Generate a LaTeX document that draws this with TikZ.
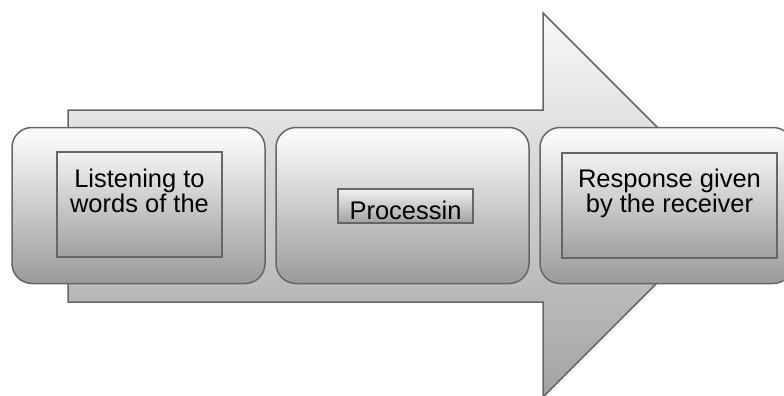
\documentclass[tikz,border=0pt]{standalone}
\usepackage{fontspec}
\setmainfont{Liberation Sans}
\definecolor{linec}{HTML}{666666}
\definecolor{arrtop}{HTML}{FAFAFA}
\definecolor{arrbot}{HTML}{A2A2A2}
\definecolor{boxbot}{HTML}{9A9A9A}
\definecolor{inbot}{HTML}{A0A0A0}
\begin{document}
\begin{tikzpicture}[x=1pt,y=-1pt,
  outerbox/.style={draw=linec, line width=1.5pt, rounded corners=20pt,
    top color=white, bottom color=boxbot, minimum width=253pt,
    minimum height=156pt, inner sep=0pt},
  innerbox/.style={draw=linec, line width=1.5pt, top color=white!95!black,
    bottom color=inbot, inner sep=0pt},
  lbl/.style={font=\fontsize{25.5}{25}\selectfont, align=center, inner sep=0pt}]
\useasboundingbox (0,0) rectangle (784,396);
\clip (0,0) rectangle (784,396);
% big arrow
\draw[draw=linec, line width=1.5pt, top color=arrtop, bottom color=arrbot]
  (68,110) -- (543,110) -- (543,13) -- (735,205) -- (543,397) -- (543,302)
  -- (68,302) -- cycle;
% outer rounded boxes
\node[outerbox] (b1) at (138.5,205.5) {};
\node[outerbox] (b2) at (402.5,205.5) {};
\node[outerbox] (b3) at (666.5,205.5) {};
% inner boxes
\node[innerbox, minimum width=165pt, minimum height=105pt] (i1) at (139.5,204.5) {};
\node[innerbox, minimum width=135pt, minimum height=34pt] (i2) at (405.5,206) {};
\node[innerbox, minimum width=215pt, minimum height=105pt] (i3) at (669.5,205.5) {};
% labels
\node[lbl, anchor=north] (t1) at (139.5,169) {Listening to\\words of the};
\node[lbl, anchor=base] (t2) at (405.5,219) {Processin};
\node[lbl, anchor=north] (t3) at (669.5,169) {Response given\\by the receiver};
\end{tikzpicture}
\end{document}
